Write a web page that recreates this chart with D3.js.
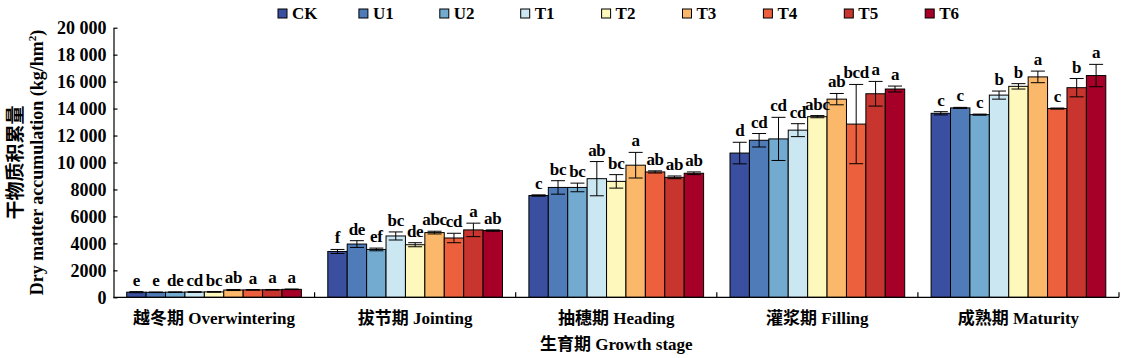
<!DOCTYPE html>
<html>
<head>
<meta charset="utf-8">
<script src="https://cdn.jsdelivr.net/npm/d3@7"></script>
<style>
  html, body { margin: 0; padding: 0; background: #fff; }
  svg text { font-family: "Liberation Serif", "Times New Roman", Times, "Noto Sans CJK SC", serif !important; font-weight: bold; fill: #000; }
  svg text tspan.cn { font-family: "Noto Sans CJK SC", sans-serif !important; font-weight: bold; }
</style>
</head>
<body>
<svg id="chart" width="1125" height="358"></svg>
<script>
// ---- data ----
const stagesCn = ["越冬期", "拔节期", "抽穗期", "灌浆期", "成熟期"];
const stagesEn = ["Overwintering", "Jointing", "Heading", "Filling", "Maturity"];
const seriesNames = ["CK", "U1", "U2", "T1", "T2", "T3", "T4", "T5", "T6"];
const colors = ["#3a4fa0", "#4f7bb9", "#73aad0", "#cae7f2", "#fff8bd", "#fbb86a", "#ec603d", "#c7352e", "#a60028"];

const CK = [380, 3400, 7550, 10700, 13650];
const U1 = [370, 3950, 8150, 11650, 14050];
const U2 = [380, 3550, 8150, 11750, 13550];
const T1 = [390, 4550, 8800, 12400, 15000];
const T2 = [400, 3900, 8600, 13400, 15650];
const T3 = [540, 4800, 9800, 14700, 16350];
const T4 = [550, 4400, 9300, 12850, 14000];
const T5 = [560, 5000, 8900, 15100, 15550];
const T6 = [590, 4950, 9200, 15450, 16450];

const errCK = [40, 150, 50, 800, 120];
const errU1 = [20, 250, 500, 500, 40];
const errU2 = [20, 100, 320, 1600, 40];
const errT1 = [20, 300, 1270, 480, 300];
const errT2 = [20, 150, 500, 80, 200];
const errT3 = [40, 100, 950, 420, 430];
const errT4 = [20, 350, 80, 2940, 40];
const errT5 = [20, 500, 100, 915, 680];
const errT6 = [20, 50, 100, 220, 830];

const letCK = ["e", "f", "c", "d", "c"];
const letU1 = ["e", "de", "bc", "cd", "c"];
const letU2 = ["de", "ef", "bc", "cd", "c"];
const letT1 = ["cd", "bc", "ab", "cd", "b"];
const letT2 = ["bc", "de", "bc", "abc", "b"];
const letT3 = ["ab", "abc", "a", "ab", "a"];
const letT4 = ["a", "cd", "ab", "bcd", "c"];
const letT5 = ["a", "a", "ab", "a", "b"];
const letT6 = ["a", "ab", "ab", "a", "a"];

const yTicks = [0, 2000, 4000, 6000, 8000, 10000, 12000, 14000, 16000, 18000, 20000];
const yTitleCn = "干物质积累量";
const yTitleEn = "Dry matter accumulation (kg/hm";
const xTitleCn = "生育期";
const xTitleEn = "Growth stage";

const stages = stagesEn;
const valueSets = [CK, U1, U2, T1, T2, T3, T4, T5, T6];
const errSets = [errCK, errU1, errU2, errT1, errT2, errT3, errT4, errT5, errT6];
const letSets = [letCK, letU1, letU2, letT1, letT2, letT3, letT4, letT5, letT6];

const rows = [];
stages.forEach((st, si) => {
  seriesNames.forEach((sn, ki) => {
    rows.push({ stage: st, series: sn, value: valueSets[ki][si], err: errSets[ki][si], letter: letSets[ki][si], color: colors[ki] });
  });
});

// ---- layout ----
const svg = d3.select("#chart");
const mLeft = 113.5, mRight = 1119, mTop = 27.7, mBottom = 297.3;
const FS = "17px";

const x0 = d3.scaleBand().domain(stages).range([mLeft, mRight]).paddingInner(0).paddingOuter(0);
const x1 = d3.scaleBand().domain(seriesNames).range([0, x0.bandwidth()]).paddingInner(0).paddingOuter(0.68);
const y = d3.scaleLinear().domain([0, 20000]).range([mBottom, mTop]);

// bars
const g = svg.append("g");
g.selectAll("rect.bar").data(rows).enter().append("rect")
  .attr("class", "bar")
  .attr("x", d => x0(d.stage) + x1(d.series))
  .attr("y", d => y(d.value))
  .attr("width", x1.bandwidth())
  .attr("height", d => y(0) - y(d.value))
  .attr("fill", d => d.color)
  .attr("stroke", "#000")
  .attr("stroke-width", 1);

// error bars
const capW = 14;
const eb = g.selectAll("g.err").data(rows).enter().append("g").attr("class", "err")
  .attr("transform", d => `translate(${x0(d.stage) + x1(d.series) + x1.bandwidth() / 2},0)`);
eb.append("line").attr("x1", 0).attr("x2", 0)
  .attr("y1", d => y(d.value + d.err)).attr("y2", d => y(d.value - d.err))
  .attr("stroke", "#000").attr("stroke-width", 1);
eb.append("line").attr("x1", -capW / 2).attr("x2", capW / 2)
  .attr("y1", d => y(d.value + d.err)).attr("y2", d => y(d.value + d.err))
  .attr("stroke", "#000").attr("stroke-width", 1);
eb.append("line").attr("x1", -capW / 2).attr("x2", capW / 2)
  .attr("y1", d => y(d.value - d.err)).attr("y2", d => y(d.value - d.err))
  .attr("stroke", "#000").attr("stroke-width", 1);

// letters
g.selectAll("text.let").data(rows).enter().append("text")
  .attr("class", "let")
  .attr("x", d => x0(d.stage) + x1(d.series) + x1.bandwidth() / 2)
  .attr("y", d => y(d.value + d.err) - 6)
  .attr("text-anchor", "middle")
  .style("font-size", "17px")
  .style("letter-spacing", "-0.3px")
  .text(d => d.letter);

// y axis
const fmt = v => v >= 10000 ? d3.format(",")(v).replace(/,/g, " ") : String(v);
const yAxis = d3.axisLeft(y).tickValues(yTicks).tickFormat(fmt).tickSizeInner(-4).tickSizeOuter(0).tickPadding(7);
const ya = svg.append("g").attr("transform", `translate(${mLeft},0)`).call(yAxis);
ya.attr("font-family", null);
ya.select(".domain").attr("stroke", "#000").attr("stroke-width", 1.2);
ya.selectAll(".tick line").attr("stroke", "#000").attr("stroke-width", 1.2);
ya.selectAll(".tick text").style("font-size", "18px").attr("fill", "#000");

// x axis
const xa = svg.append("g").attr("transform", `translate(0,${mBottom})`);
xa.append("line").attr("x1", mLeft).attr("x2", mRight).attr("y1", 0).attr("y2", 0).attr("stroke", "#000").attr("stroke-width", 1.2);
xa.selectAll("line.xt").data(stages).enter().append("line").attr("class", "xt")
  .attr("x1", d => x0(d) + x0.bandwidth()).attr("x2", d => x0(d) + x0.bandwidth())
  .attr("y1", 0).attr("y2", -5).attr("stroke", "#000").attr("stroke-width", 1.2);
const xl = xa.selectAll("text.xl").data(stages).enter().append("text").attr("class", "xl")
  .attr("x", d => x0(d) + x0.bandwidth() / 2).attr("y", 27)
  .attr("text-anchor", "middle").style("font-size", FS);
xl.append("tspan").attr("class", "cn").text((d, i) => stagesCn[i]);
xl.append("tspan").text(d => " " + d);

// axis titles
const xt = svg.append("text").attr("x", (mLeft + mRight) / 2).attr("y", 350).attr("text-anchor", "middle")
  .style("font-size", FS);
xt.append("tspan").attr("class", "cn").text(xTitleCn);
xt.append("tspan").text(" " + xTitleEn);

svg.append("text").attr("transform", `translate(22,${(mTop + mBottom) / 2}) rotate(-90)`)
  .attr("text-anchor", "middle").style("font-size", "19px")
  .append("tspan").attr("class", "cn").text(yTitleCn);
const ye = svg.append("text").attr("transform", `translate(43,${(mTop + mBottom) / 2}) rotate(-90)`)
  .attr("text-anchor", "middle").style("font-size", "18px");
ye.append("tspan").text(yTitleEn);
ye.append("tspan").attr("dy", -7).style("font-size", "11px").text("2");
ye.append("tspan").attr("dy", 7).text(")");

// legend
const lg = svg.append("g");
const lx = d3.scaleLinear().domain([0, seriesNames.length - 1]).range([278, 278 + 80.9 * 8]);
const items = lg.selectAll("g").data(seriesNames).enter().append("g")
  .attr("transform", (d, i) => `translate(${lx(i)},9)`);
items.append("rect").attr("width", 9).attr("height", 9).attr("fill", (d, i) => colors[i])
  .attr("stroke", "#000").attr("stroke-width", 1);
items.append("text").attr("x", 14).attr("y", 10).style("font-size", FS).text(d => d);
</script>
</body>
</html>
